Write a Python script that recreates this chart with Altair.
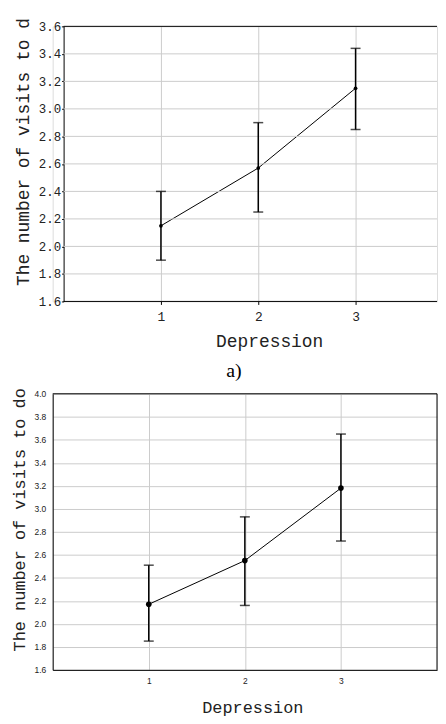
import altair as alt
import pandas as pd

# ---- data ----
depression = [1, 2, 3]
top_mean = [2.15, 2.57, 3.15]
top_low = [1.90, 2.25, 2.85]
top_high = [2.40, 2.90, 3.44]
bot_mean = [2.17, 2.55, 3.18]
bot_low = [1.85, 2.16, 2.72]
bot_high = [2.51, 2.93, 3.65]
x_ticks = [1, 2, 3]
top_y_ticks = [1.6, 1.8, 2.0, 2.2, 2.4, 2.6, 2.8, 3.0, 3.2, 3.4, 3.6]
bot_y_ticks = [1.6, 1.8, 2.0, 2.2, 2.4, 2.6, 2.8, 3.0, 3.2, 3.4, 3.6, 3.8, 4.0]
y_title_top = "The number of visits to d"
y_title_bot = "The number of visits to do"
x_title = "Depression"
caption = "a)"

MONO = "Liberation Mono"
SANS = "Liberation Sans"
SERIF = "Liberation Serif"
GRID = "#cccccc"

# top panel x domain: shifted so that its y axis sits right of the shared plot edge
TOP_XMIN = -11 / 98
TOP_W = 387
TOP_XMAX = TOP_XMIN + TOP_W / 98

top_df = pd.DataFrame({"d": depression, "m": top_mean, "lo": top_low, "hi": top_high})
bot_df = pd.DataFrame({"d": depression, "m": bot_mean, "lo": bot_low, "hi": bot_high})
top_grid_df = pd.DataFrame({"y": top_y_ticks[1:-1]})
top_border_df = pd.DataFrame({"y": [top_y_ticks[0], top_y_ticks[-1]]})

# ---------------- top panel ----------------
xs_top = alt.Scale(domain=[TOP_XMIN, TOP_XMAX], nice=False, zero=False)
ys_top = alt.Scale(domain=[1.6, 3.6], nice=False, zero=False)

xa_top = alt.Axis(
    values=x_ticks, format="d", grid=True, gridColor=GRID, gridWidth=1,
    domain=False, tickSize=3, tickColor="#000", labelFont=MONO, labelFontSize=13,
    labelColor="#222", labelPadding=6, labelOverlap=False, title=x_title, titleFont=MONO,
    titleFontSize=18, titleFontWeight="normal", titleColor="#222",
    titleX=218, titleY=40, titleBaseline="middle", titleAlign="center")
ya_top = alt.Axis(
    values=top_y_ticks, format=".1f", grid=False, offset=-11, domainColor="#000",
    tickSize=2, tickColor="#000", labelFont=MONO, labelFontSize=12.5, labelColor="#222",
    labelPadding=1, labelOverlap=False, title=y_title_top, titleFont=MONO, titleFontSize=18,
    titleFontWeight="normal", titleColor="#222", titleAngle=270, titleAlign="left",
    titleBaseline="middle", titleX=-40, titleY=261)


def xt(f="d"):
    return alt.X(f + ":Q", scale=xs_top, axis=xa_top)


def yt(f):
    return alt.Y(f + ":Q", scale=ys_top, axis=ya_top)


top_hline_df = pd.DataFrame({"y": top_y_ticks[1:-1] + [top_y_ticks[0], top_y_ticks[-1]],
                             "kind": ["grid"] * (len(top_y_ticks) - 2) + ["border", "border"],
                             "x0": 0.0, "x1": TOP_XMAX})

t_base = alt.Chart(top_df)
t_line = t_base.mark_line(color="#000", strokeWidth=1).encode(x=xt(), y=yt("m"))
t_grid = alt.Chart(top_hline_df).transform_filter("datum.kind == 'grid'").mark_rule(
    color=GRID, strokeWidth=1).encode(y=yt("y"), x=xt("x0"), x2="x1:Q")
t_border = alt.Chart(top_hline_df).transform_filter("datum.kind == 'border'").mark_rule(
    color="#000", strokeWidth=1).encode(y=yt("y"), x=xt("x0"), x2="x1:Q")
t_err = t_base.mark_rule(color="#000", strokeWidth=1.5).encode(x=xt(), y=yt("lo"), y2="hi:Q")
t_cap_lo = t_base.mark_tick(orient="horizontal", size=10, thickness=1.5, color="#000").encode(
    x=xt(), y=yt("lo"))
t_cap_hi = t_base.mark_tick(orient="horizontal", size=10, thickness=1.5, color="#000").encode(
    x=xt(), y=yt("hi"))
t_pts = t_base.mark_circle(color="#000", size=14, opacity=1).encode(x=xt(), y=yt("m"))

top = alt.layer(t_line, t_grid, t_err, t_border, t_cap_lo, t_cap_hi, t_pts).properties(
    width=TOP_W, height=277)

# ---------------- bottom panel ----------------
xs_bot = alt.Scale(domain=[0, 4], nice=False, zero=False)
ys_bot = alt.Scale(domain=[1.6, 4.0], nice=False, zero=False)

xa_bot = alt.Axis(
    values=x_ticks, format="d", grid=True, gridColor=GRID, gridWidth=1,
    domainColor="#000", tickSize=0, labelFont=SANS, labelFontSize=8.5,
    labelColor="#222", labelPadding=7, labelOverlap=False, title=x_title, titleFont=MONO,
    titleFontSize=17, titleFontWeight="normal", titleColor="#222",
    titleX=201, titleY=38, titleBaseline="middle", titleAlign="center")
ya_bot = alt.Axis(
    values=bot_y_ticks, format=".1f", grid=True, gridColor=GRID, gridWidth=1,
    domainColor="#000", tickSize=0, labelFont=SANS, labelFontSize=8.5, labelColor="#222",
    labelPadding=7, labelOverlap=False, title=y_title_bot, titleFont=MONO, titleFontSize=17,
    titleFontWeight="normal", titleColor="#222", titleAngle=270, titleAlign="left",
    titleBaseline="middle", titleX=-33, titleY=259)


def xb(f="d"):
    return alt.X(f + ":Q", scale=xs_bot, axis=xa_bot)


def yb(f):
    return alt.Y(f + ":Q", scale=ys_bot, axis=ya_bot)


bot_border_h = pd.DataFrame({"y": [4.0], "x0": [0.0], "x1": [4.0]})
bot_border_v = pd.DataFrame({"x": [4.0], "y0": [1.6], "y1": [4.0]})
b_base = alt.Chart(bot_df)
b_line = b_base.mark_line(color="#000", strokeWidth=1).encode(x=xb(), y=yb("m"))
b_top = alt.Chart(bot_border_h).mark_rule(color="#000", strokeWidth=1).encode(
    y=yb("y"), x=xb("x0"), x2="x1:Q")
b_right = alt.Chart(bot_border_v).mark_rule(color="#000", strokeWidth=1).encode(
    x=xb("x"), y=yb("y0"), y2="y1:Q")
b_err = b_base.mark_rule(color="#000", strokeWidth=1.5).encode(x=xb(), y=yb("lo"), y2="hi:Q")
b_cap_lo = b_base.mark_tick(orient="horizontal", size=10, thickness=1.5, color="#000").encode(
    x=xb(), y=yb("lo"))
b_cap_hi = b_base.mark_tick(orient="horizontal", size=10, thickness=1.5, color="#000").encode(
    x=xb(), y=yb("hi"))
b_pts = b_base.mark_circle(color="#000", size=32, opacity=1).encode(x=xb(), y=yb("m"))

bottom = alt.layer(b_line, b_err, b_top, b_right, b_cap_lo, b_cap_hi, b_pts).properties(
    width=387, height=278,
    title=alt.TitleParams(caption, font=SERIF, fontSize=20, fontWeight="normal",
                          color="#000", anchor="middle", dx=-11, offset=7))

chart = alt.vconcat(top, bottom, spacing=9).properties(
    padding={"left": 2, "top": 6, "right": 0, "bottom": 0}
).configure_view(stroke=None).configure_axis(labelOverlap=False).configure(background="white")

chart.save("out.html", embed_options={"renderer": "svg", "actions": False})
